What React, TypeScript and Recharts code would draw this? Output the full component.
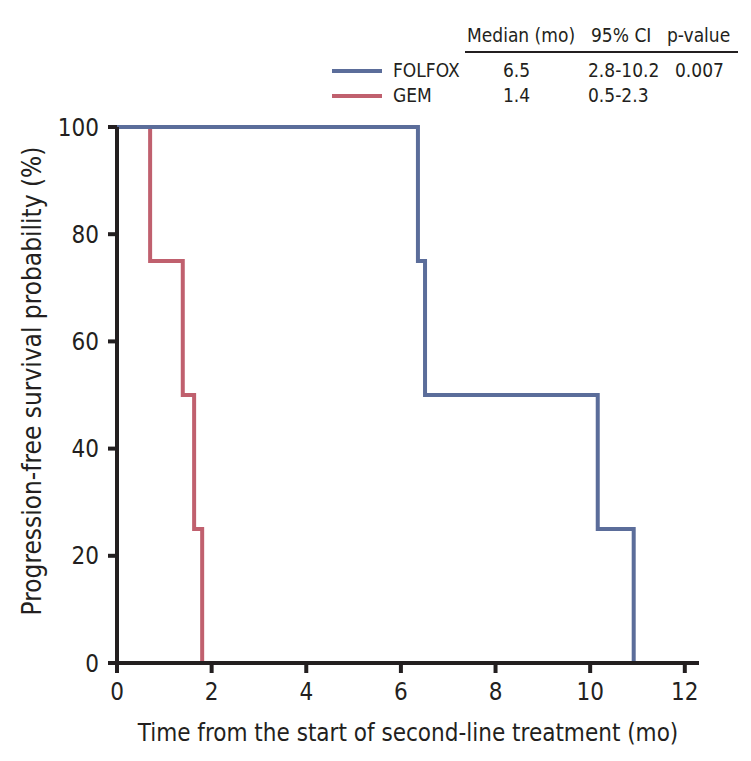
import { LineChart, Line, XAxis, YAxis } from "recharts";

const folfoxTime = [0, 6.36, 6.51, 10.16, 10.92];
const folfoxSurv = [100, 75, 50, 25, 0];
const gemTime = [0, 0.7, 1.39, 1.63, 1.8];
const gemSurv = [100, 75, 50, 25, 0];
const xTicks = [0, 2, 4, 6, 8, 10, 12];
const yTicks = [0, 20, 40, 60, 80, 100];

const folfox = folfoxTime.map((t, i) => ({ t, s: folfoxSurv[i] }));
const gem = gemTime.map((t, i) => ({ t, s: gemSurv[i] }));

const FONT = '"Liberation Sans Narrow", "DejaVu Sans Condensed", "Roboto Condensed", sans-serif';
const INK = "#231f20";
const BLUE = "#5b6d9a";
const RED = "#c0606e";

function YTitle() {
  return (
    <text x={32} y={381} transform="rotate(-90 32 381)" textAnchor="middle" dominantBaseline="central" fill={INK} fontSize={26} fontFamily={FONT}>
      Progression-free survival probability (%)
    </text>
  );
}

export default function App() {
  const t = { fill: INK, fontSize: 19, fontFamily: FONT };
  return (
    <div style={{ position: "absolute", left: 0, top: 0, width: 751, height: 761, background: "#fff" }}>
      <LineChart width={751} height={761} margin={{ top: 127, right: 52, bottom: 48, left: 57 }}>
        <XAxis
          type="number"
          dataKey="t"
          domain={[0, 12.3]}
          ticks={xTicks}
          height={50}
          axisLine={{ stroke: INK, strokeWidth: 4 }}
          tickLine={{ stroke: INK, strokeWidth: 4 }}
          tickSize={10}
          tickMargin={10}
          tick={{ fill: INK, fontSize: 24, fontFamily: FONT }}
          label={{ value: "Time from the start of second-line treatment (mo)", position: "insideBottom", offset: -28, fill: INK, fontSize: 24, fontFamily: FONT }}
        />
        <YAxis
          type="number"
          dataKey="s"
          domain={[0, 100]}
          ticks={yTicks}
          width={60}
          axisLine={{ stroke: INK, strokeWidth: 4 }}
          tickLine={{ stroke: INK, strokeWidth: 4 }}
          tickSize={9}
          tickMargin={9}
          tick={{ fill: INK, fontSize: 24, fontFamily: FONT }}
          label={<YTitle />}
        />
        <Line data={gem} dataKey="s" type="stepAfter" stroke={RED} strokeWidth={4} dot={false} isAnimationActive={false} />
        <Line data={folfox} dataKey="s" type="stepAfter" stroke={BLUE} strokeWidth={4} dot={false} isAnimationActive={false} />
      </LineChart>

      <svg width={751} height={120} style={{ position: "absolute", left: 0, top: 0 }}>
        <text x={467} y={42} {...t}>Median (mo)</text>
        <text x={591} y={42} {...t}>95% CI</text>
        <text x={667} y={42} {...t}>p-value</text>
        <line x1={465} x2={738} y1={52} y2={52} stroke={INK} strokeWidth={2} />

        <line x1={332} x2={382} y1={71} y2={71} stroke={BLUE} strokeWidth={4} />
        <text x={393} y={77} {...t}>FOLFOX</text>
        <text x={503} y={77} {...t}>6.5</text>
        <text x={588} y={77} {...t}>2.8-10.2</text>
        <text x={675} y={77} {...t}>0.007</text>

        <line x1={332} x2={382} y1={96} y2={96} stroke={RED} strokeWidth={4} />
        <text x={393} y={102} {...t}>GEM</text>
        <text x={503} y={102} {...t}>1.4</text>
        <text x={588} y={102} {...t}>0.5-2.3</text>
      </svg>
    </div>
  );
}
